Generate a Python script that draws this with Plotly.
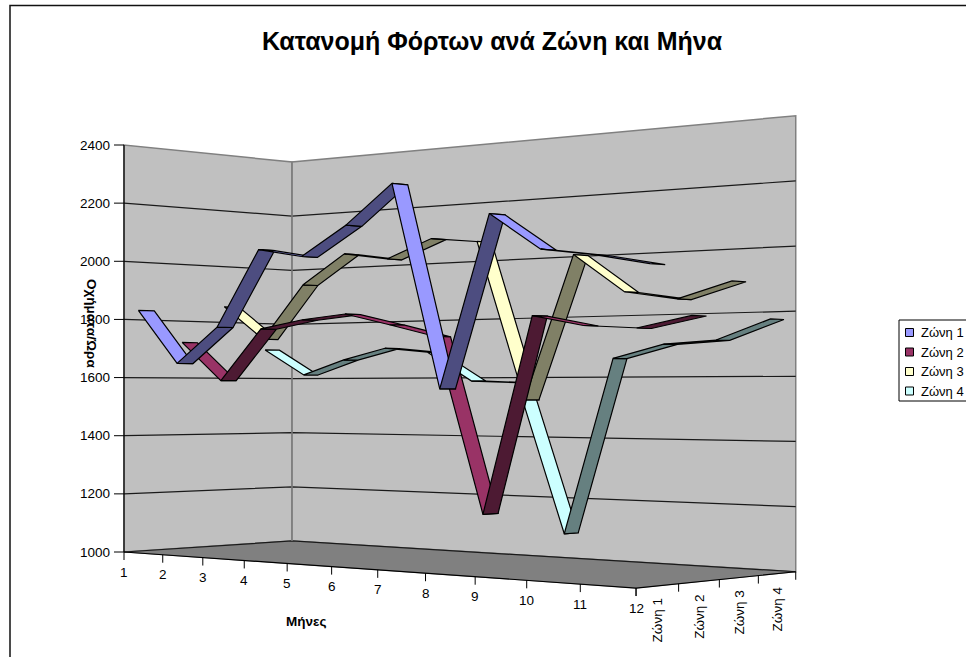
import plotly.graph_objects as go

TITLE = "Κατανομή Φόρτων ανά Ζώνη και Μήνα"
X_TITLE = "Μήνες"
Z_TITLE = "Οχήματα/Ώρα"
MONTHS = [1, 2, 3, 4, 5, 6, 7, 8, 9, 10, 11, 12]
ZONES = ["Ζώνη 1", "Ζώνη 2", "Ζώνη 3", "Ζώνη 4"]
VALUE_TICKS = [1000, 1200, 1400, 1600, 1800, 2000, 2200, 2400]

zone1 = [1833, 1648, 1768, 2019, 1989, 2081, 2202, 1561, 2088, 1973, 1949, 1916]
zone2 = [1725, 1590, 1766, 1793, 1808, 1769, 1728, 1169, 1786, 1752, 1741, 1774]
zone3 = [1856, 1737, 1923, 2023, 1998, 2058, 2040, 1526, 1982, 1860, 1833, 1881]
zone4 = [1704, 1612, 1664, 1703, 1687, 1588, 1582, 1090, 1659, 1702, 1712, 1773]
SERIES = [zone1, zone2, zone3, zone4]

LIGHT = ["#9999FF", "#993366", "#FFFFCC", "#CCFFFF"]
DARK = ["#4D4D80", "#4D1A33", "#808066", "#668080"]
WALL = "#C0C0C0"
FLOOR = "#808080"
FONT = "Liberation Sans"
W, H = 966, 657
RIBBON = 0.18


def project(month, zone, value):
    """Perspective view of the chart's box: month 1..12, zone 0.5..4.5, value."""
    u = (month - MONTHS[0]) / (MONTHS[-1] - MONTHS[0])
    v = (zone - 0.5) / len(ZONES)
    t = (value - VALUE_TICKS[0]) / (VALUE_TICKS[-1] - VALUE_TICKS[0])
    w = 1 - 0.1815 * u + 0.074 * v
    x = (124 + 396.6 * u + 189.6 * v) / w
    y = (552 - 70.7 * u + 29 * v - 407 * t) / w
    return x, y


def path(points):
    xy = [project(*p) for p in points]
    return [p[0] for p in xy], [p[1] for p in xy]


M0, M1 = MONTHS[0], MONTHS[-1]
Z0, Z1 = 0.5, len(ZONES) + 0.5
V0, V1 = VALUE_TICKS[0], VALUE_TICKS[-1]

fig = go.Figure()


def poly(points, fill=None, color="#000000", width=1.0):
    xs, ys = path(points)
    fig.add_trace(go.Scatter(
        x=xs, y=ys, mode="lines", line=dict(color=color, width=width),
        fill="toself" if fill else None, fillcolor=fill,
        hoverinfo="skip", showlegend=False))


# walls and floor
poly([(M0, Z0, V0), (M0, Z1, V0), (M0, Z1, V1), (M0, Z0, V1), (M0, Z0, V0)], fill=WALL, color=FLOOR, width=1.5)
poly([(M0, Z1, V0), (M1, Z1, V0), (M1, Z1, V1), (M0, Z1, V1), (M0, Z1, V0)], fill=WALL, color=FLOOR, width=1.5)
poly([(M0, Z0, V0), (M1, Z0, V0), (M1, Z1, V0), (M0, Z1, V0), (M0, Z0, V0)], fill=FLOOR, color=FLOOR, width=1)

# value gridlines
for val in VALUE_TICKS[:-1]:
    poly([(M0, Z0, val), (M0, Z1, val), (M1, Z1, val)], color="#1A1A1A", width=1.2)
poly([(M0, Z1, V0), (M0, Z1, V1)], color=FLOOR, width=1.5)

# axis lines
poly([(M0, Z0, V0), (M0, Z0, V1)], color="#000000", width=1.2)
poly([(M0, Z0, V0), (M1, Z0, V0), (M1, Z1, V0)], color="#000000", width=1.2)

# ribbons, back zone first, left to right inside each zone
for zi in range(len(ZONES) - 1, -1, -1):
    vals = SERIES[zi]
    z = zi + 1
    for i in range(len(MONTHS) - 1):
        a, b = MONTHS[i], MONTHS[i + 1]
        rising = vals[i + 1] > vals[i]
        xs, ys = path([(a, z - RIBBON, vals[i]), (a, z + RIBBON, vals[i]),
                       (b, z + RIBBON, vals[i + 1]), (b, z - RIBBON, vals[i + 1]),
                       (a, z - RIBBON, vals[i])])
        fig.add_trace(go.Scatter(
            x=xs, y=ys, mode="lines", fill="toself",
            fillcolor=DARK[zi] if rising else LIGHT[zi],
            line=dict(color="#000000", width=1.2),
            name=ZONES[zi], hoverinfo="name", showlegend=False))

ann = []
shapes = []


def text(x, y, s, size=13.5, bold=False, angle=0, xanchor="center", yanchor="middle"):
    ann.append(dict(
        x=x, y=y, xref="x", yref="y", text=f"<b>{s}</b>" if bold else s, showarrow=False,
        textangle=angle, xanchor=xanchor, yanchor=yanchor,
        font=dict(family=FONT, size=size, color="#000000")))


def tick(x0, y0, x1, y1):
    shapes.append(dict(type="line", xref="x", yref="y", x0=x0, y0=y0, x1=x1, y1=y1,
                       line=dict(color="#000000", width=1)))


# value axis
for val in VALUE_TICKS:
    x, y = project(M0, Z0, val)
    tick(x - 10, y, x, y)
    text(x - 12, y, str(val), xanchor="right")
# month axis
for m in MONTHS:
    x, y = project(m, Z0, V0)
    tick(x, y, x, y + 8)
    text(x, y + 20, str(m))
# zone axis
for k in range(len(ZONES) + 1):
    x, y = project(M1, Z0 + k, V0)
    tick(x, y, x, y + 8)
for k, name in enumerate(ZONES):
    x, y = project(M1, k + 1, V0)
    text(x, y + 11, name, angle=-90, yanchor="top")

text(306, 621, X_TITLE, bold=True)
text(92, 323, Z_TITLE, bold=True, angle=90)

# chart frame
shapes.append(dict(type="rect", xref="x", yref="y", x0=10, y0=5.5, x1=W + 20, y1=H + 20,
                   line=dict(color="#111111", width=1.5), layer="above"))
# legend
shapes.append(dict(type="rect", xref="x", yref="y", x0=899, y0=320, x1=W + 20, y1=401,
                   line=dict(color="#000000", width=1), fillcolor="#FFFFFF"))
for k, (name, col) in enumerate(zip(ZONES, LIGHT)):
    yc = 332.5 + k * 19.5
    shapes.append(dict(type="rect", xref="x", yref="y", x0=905.5, x1=913.5, y0=yc - 4, y1=yc + 4,
                       line=dict(color="#000000", width=1), fillcolor=col))
    text(918.5, yc, name, size=13, xanchor="left")

fig.update_layout(
    width=W, height=H, autosize=False,
    margin=dict(l=0, r=0, t=0, b=0),
    paper_bgcolor="#FFFFFF", plot_bgcolor="#FFFFFF",
    showlegend=False,
    title=dict(text=f"<b>{TITLE}</b>", x=492 / W, y=1 - 41 / H, xanchor="center", yanchor="middle",
               font=dict(family=FONT, size=25, color="#000000")),
    xaxis=dict(range=[0, W], visible=False, fixedrange=True),
    yaxis=dict(range=[H, 0], visible=False, fixedrange=True),
    annotations=ann, shapes=shapes,
)
fig.write_html("out.html", config=dict(displayModeBar=False),
               post_script="document.body.style.margin='0';document.documentElement.style.overflow='hidden';")
